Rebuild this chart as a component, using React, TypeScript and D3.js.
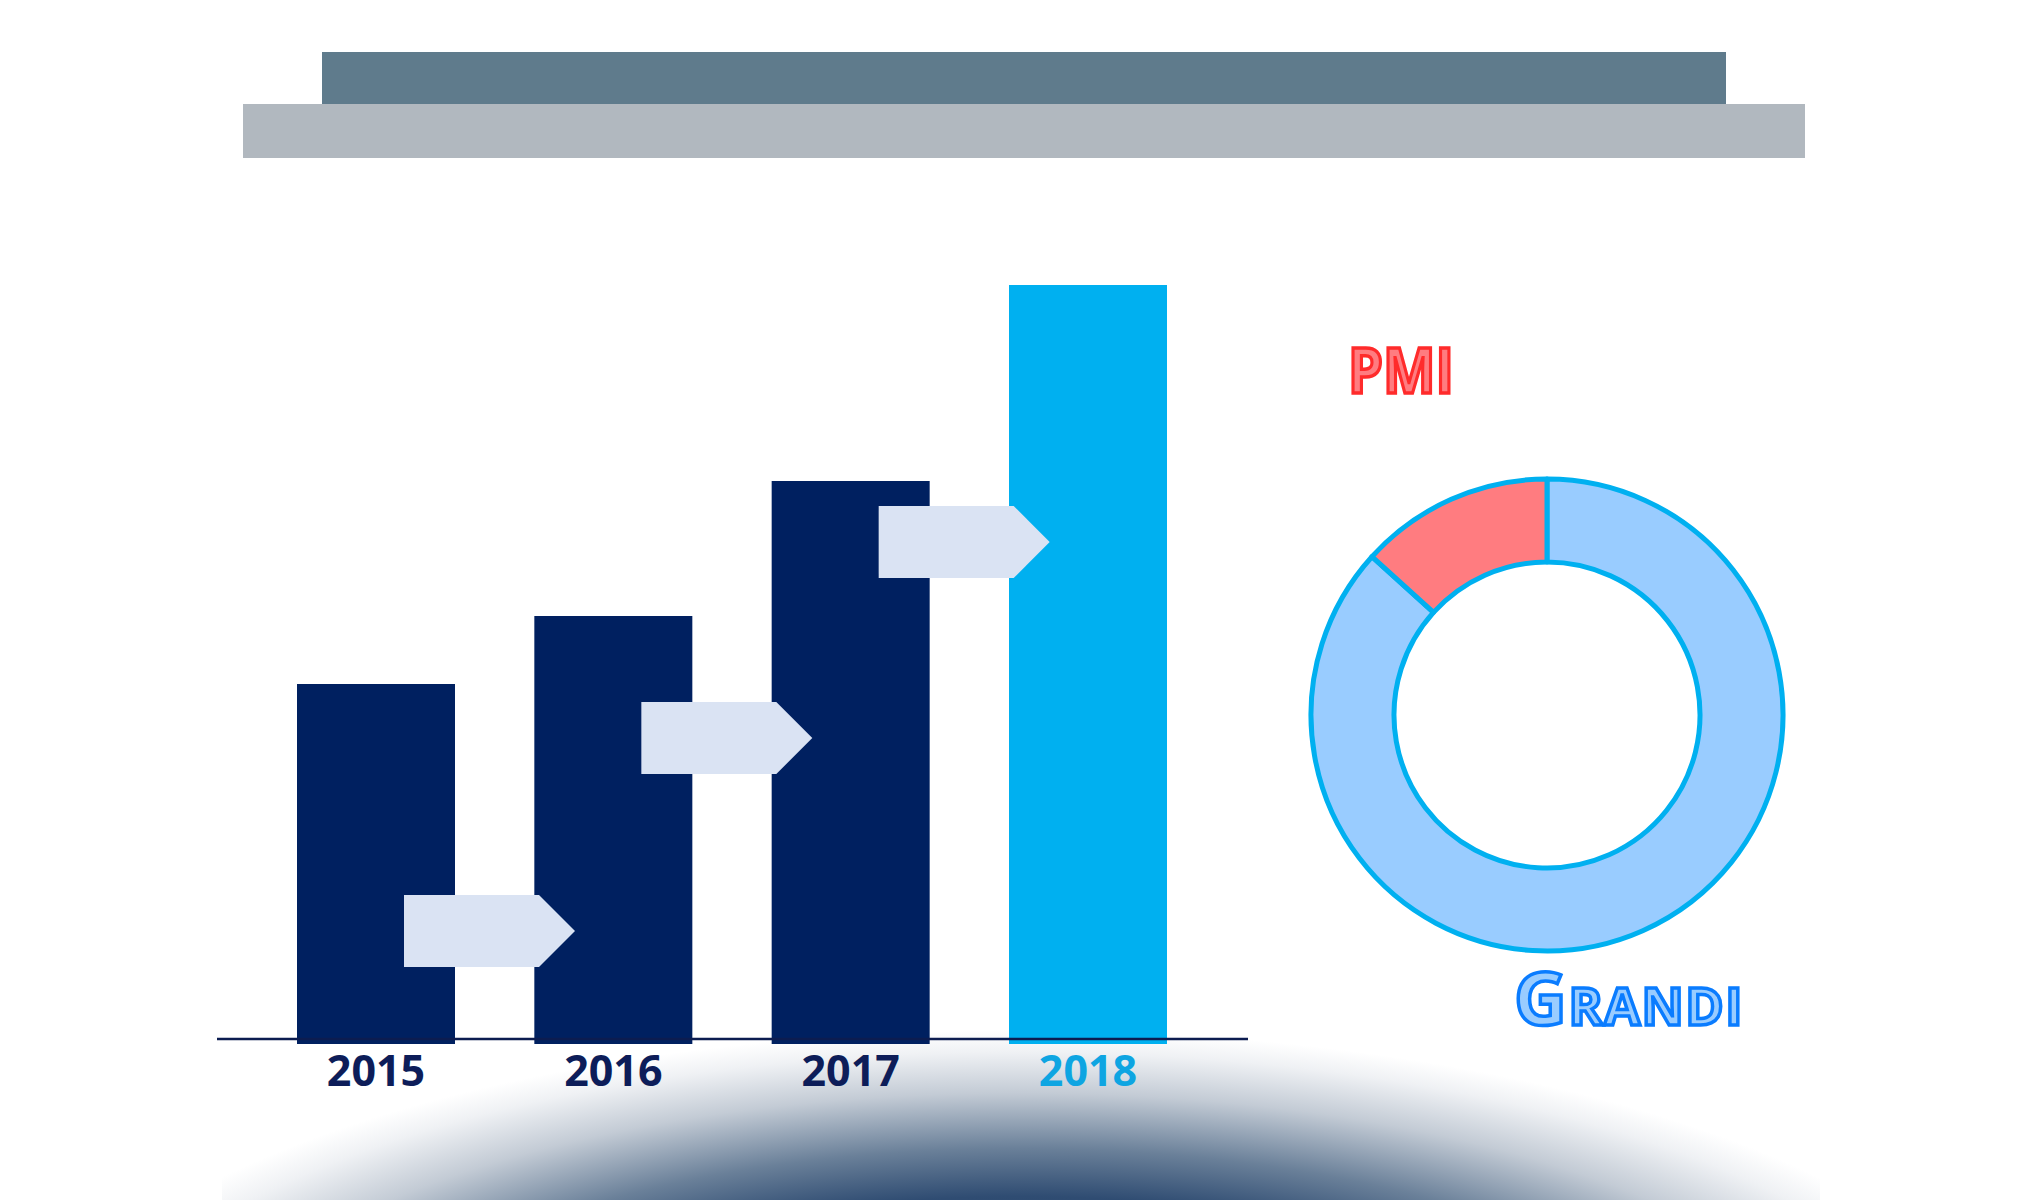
import { useEffect, useRef } from "react";
import * as d3 from "d3";

// bar chart values (relative units, no axis in the original)
const years = ["2015", "2016", "2017", "2018"];
const revenue = [360, 428, 563, 759];
// height of the connector arrows between consecutive bars, same units
const arrowLevels = [113, 306, 502];

// donut split
const segmentLabels = ["Grandi", "PMI"];
const segmentShares = [86.7, 13.3];

const W = 2040;
const H = 1200;

export default function App() {
  const svgRef = useRef<SVGSVGElement>(null);

  useEffect(() => {
    if (!svgRef.current) return;
    const svg = d3.select(svgRef.current);
    svg.selectAll("*").remove();
    svg.attr("viewBox", `0 0 ${W} ${H}`).attr("width", W).attr("height", H);

    const font = "'Open Sans', 'DejaVu Sans', sans-serif";

    // background glow at the bottom
    const defs = svg.append("defs");
    const grad = defs
      .append("radialGradient")
      .attr("id", "glow")
      .attr("cx", "50%")
      .attr("cy", "50%")
      .attr("r", "50%");
    [
      [0, "#1a365e"],
      [0.55, "#2f4c72"],
      [0.68, "#6a8099"],
      [0.83, "#c3cbd5"],
      [0.94, "#eff1f4"],
      [1, "#ffffff"],
    ].forEach(([o, c]) => grad.append("stop").attr("offset", o as number).attr("stop-color", c as string));
    defs
      .append("clipPath")
      .attr("id", "glowClip")
      .append("rect")
      .attr("x", 222)
      .attr("y", 0)
      .attr("width", 1598)
      .attr("height", H);
    svg
      .append("ellipse")
      .attr("clip-path", "url(#glowClip)")
      .attr("cx", 1020)
      .attr("cy", 1400)
      .attr("rx", 1000)
      .attr("ry", 370)
      .attr("fill", "url(#glow)");

    // title banner (empty in the original)
    svg.append("rect").attr("x", 322).attr("y", 52).attr("width", 1404).attr("height", 53).attr("fill", "#5f7b8c");
    svg.append("rect").attr("x", 243).attr("y", 104).attr("width", 1562).attr("height", 54).attr("fill", "#b1b8bf");

    // bars
    const baseY = 1044;
    const barWidth = 158;
    const x = d3.scalePoint<string>().domain(years).range([376, 1088]);
    const y = d3.scaleLinear().domain([0, d3.max(revenue) ?? 1]).range([baseY, 285]);
    const last = years.length - 1;

    svg
      .append("g")
      .selectAll("rect")
      .data(years)
      .join("rect")
      .attr("x", (d) => (x(d) ?? 0) - barWidth / 2)
      .attr("y", (_, i) => y(revenue[i]))
      .attr("width", barWidth)
      .attr("height", (_, i) => baseY - y(revenue[i]))
      .attr("fill", (_, i) => (i === last ? "#00b0f0" : "#002060"));

    // arrows from one year to the next
    const aw = 171;
    const ah = 72;
    const shoulder = 135;
    svg
      .append("g")
      .selectAll("path")
      .data(arrowLevels)
      .join("path")
      .attr("d", (lv, i) => {
        const l = (x(years[i]) ?? 0) + 28;
        const t = y(lv) - ah / 2;
        const p = d3.path();
        p.moveTo(l, t);
        p.lineTo(l + shoulder, t);
        p.lineTo(l + aw, t + ah / 2);
        p.lineTo(l + shoulder, t + ah);
        p.lineTo(l, t + ah);
        p.closePath();
        return p.toString();
      })
      .attr("fill", "#dae3f3");

    // baseline
    svg
      .append("line")
      .attr("x1", 217)
      .attr("x2", 1248)
      .attr("y1", 1039)
      .attr("y2", 1039)
      .attr("stroke", "#0c1c50")
      .attr("stroke-width", 2.5);

    // year labels
    svg
      .append("g")
      .selectAll("text")
      .data(years)
      .join("text")
      .attr("x", (d) => x(d) ?? 0)
      .attr("y", 1086)
      .attr("text-anchor", "middle")
      .attr("font-family", font)
      .attr("font-weight", 700)
      .attr("font-size", 43)
      .attr("fill", (_, i) => (i === last ? "#0ea5e2" : "#0d1d59"))
      .text((d) => d);

    // donut
    const cx = 1547;
    const cy = 715;
    const pie = d3
      .pie<number>()
      .sort(null)
      .startAngle(0)
      .endAngle(2 * Math.PI);
    const arc = d3.arc<d3.PieArcDatum<number>>().innerRadius(153).outerRadius(236);
    const fills: Record<string, string> = { Grandi: "#99ccff", PMI: "#ff7c80" };

    svg
      .append("g")
      .attr("transform", `translate(${cx},${cy})`)
      .selectAll("path")
      .data(pie(segmentShares))
      .join("path")
      .attr("d", arc)
      .attr("fill", (_, i) => fills[segmentLabels[i]])
      .attr("stroke", "#00b0f0")
      .attr("stroke-width", 5)
      .attr("stroke-linejoin", "round");

    // segment labels
    svg
      .append("text")
      .attr("x", 1401)
      .attr("y", 393)
      .attr("text-anchor", "middle")
      .attr("font-family", font)
      .attr("font-weight", 700)
      .attr("font-size", 62)
      .attr("textLength", 106)
      .attr("lengthAdjust", "spacingAndGlyphs")
      .attr("fill", "#ff7c80")
      .attr("stroke", "#ff2b2b")
      .attr("stroke-width", 3.5)
      .text(segmentLabels[1].toUpperCase());

    const grandi = segmentLabels[0].toUpperCase();
    const gt = svg
      .append("text")
      .attr("x", 1514)
      .attr("y", 1025)
      .attr("font-family", font)
      .attr("font-weight", 700)
      .attr("letter-spacing", 1.5)
      .attr("fill", "#99ccff")
      .attr("stroke", "#0a7cff")
      .attr("stroke-width", 3.5);
    gt.append("tspan").attr("font-size", 73).text(grandi.slice(0, 1));
    gt.append("tspan").attr("font-size", 52).text(grandi.slice(1));
  }, []);

  return (
    <svg
      ref={svgRef}
      style={{ position: "absolute", left: 0, top: 0, display: "block", background: "#ffffff" }}
    />
  );
}
